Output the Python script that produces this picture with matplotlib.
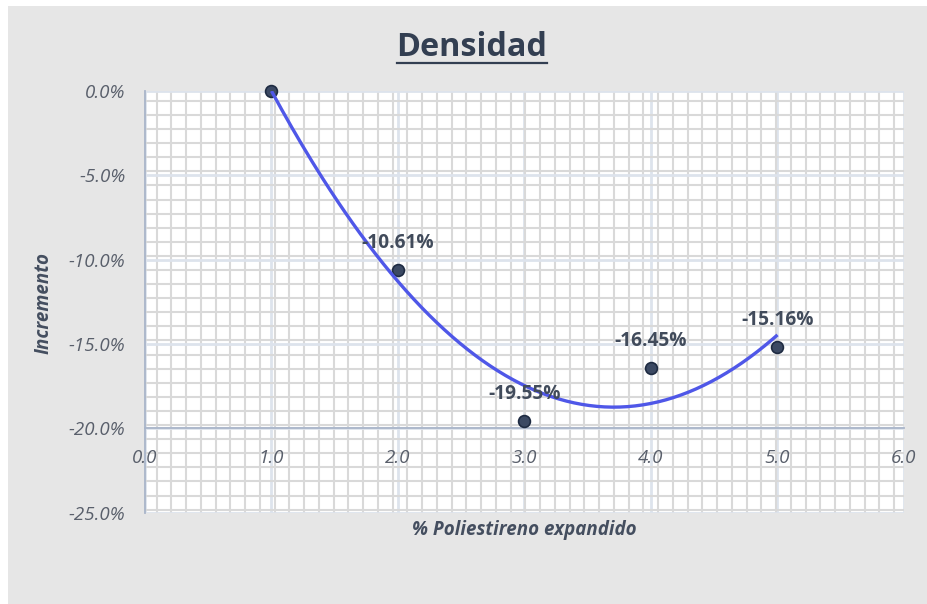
import numpy as np
import matplotlib
matplotlib.use("Agg")
import matplotlib.pyplot as plt
from matplotlib.ticker import MultipleLocator, FuncFormatter
from matplotlib.patches import Rectangle
from matplotlib.lines import Line2D

# Data: density change vs. expanded polystyrene content
eps_pct = [1.0, 2.0, 3.0, 4.0, 5.0]
incremento = [0.0, -10.61, -19.55, -16.45, -15.16]
point_labels = ["", "-10.61%", "-19.55%", "-16.45%", "-15.16%"]
x_ticks = [0.0, 1.0, 2.0, 3.0, 4.0, 5.0, 6.0]
y_ticks = [0.0, -5.0, -10.0, -15.0, -20.0, -25.0]

title = "Densidad"
xlabel = "% Poliestireno expandido"
ylabel = "Incremento"

plt.rcParams["font.family"] = ["Open Sans", "DejaVu Sans"]
plt.rcParams["axes.unicode_minus"] = False

W, H = 928, 604
fig = plt.figure(figsize=(W / 100, H / 100), dpi=100, facecolor="white")

# grey chart area background
fig.patches.append(Rectangle((8 / W, 0), 1 - 8 / W, 1 - 6 / H,
                             transform=fig.transFigure, facecolor="#e6e6e6",
                             edgecolor="none", zorder=-10))

rect = [145 / W, 1 - 512.5 / H, (904 - 145) / W, (512.5 - 91) / H]

# base axes: graph-paper grid, spines and data
ax = fig.add_axes(rect)
ax.set_zorder(1)
ax.set_facecolor("white")
ax.set_xlim(0, 6)
ax.set_ylim(-25, 0)
ax.set_xticks(x_ticks)
ax.set_yticks(y_ticks)
ax.xaxis.set_minor_locator(MultipleLocator(0.1166, offset=0.092))
ax.yaxis.set_minor_locator(MultipleLocator(0.836, offset=0.25))
ax.grid(which="minor", color="#d9d9d9", linewidth=1.5)
ax.grid(which="major", color="#dde3ec", linewidth=2.0)
ax.set_axisbelow(True)
ax.tick_params(which="both", length=0, labelbottom=False, labelleft=False)

for s in ("top", "right"):
    ax.spines[s].set_visible(False)
ax.spines["bottom"].set_position(("data", -20))
for s in ("bottom", "left"):
    ax.spines[s].set_color("#a9b5c9")
    ax.spines[s].set_linewidth(1.3)

# polynomial (order 2) trendline
coef = np.polyfit(eps_pct, incremento, 2)
xs = np.linspace(min(eps_pct), max(eps_pct), 200)
ax.plot(xs, np.polyval(coef, xs), color="#4f57e8", linewidth=2.4,
        zorder=4, solid_capstyle="butt")

ax.plot(eps_pct, incremento, linestyle="none", marker="o", markersize=8.5,
        markerfacecolor="#3b4963", markeredgecolor="#1e2b42",
        markeredgewidth=1.2, zorder=3, clip_on=False)

for x, y, t in zip(eps_pct, incremento, point_labels):
    if t:
        ax.annotate(t, (x, y), xytext=(0, 19.5), textcoords="offset points",
                    ha="center", va="center", fontsize=13.8,
                    fontweight="bold", color="#414b5b", zorder=5)

# overlay axes carrying the tick labels so they sit above the grid
lab = fig.add_axes(rect, frameon=False)
lab.set_zorder(2)
lab.patch.set_visible(False)
lab.set_xlim(ax.get_xlim())
lab.set_ylim(ax.get_ylim())
lab.set_xticks(x_ticks)
lab.set_yticks(y_ticks)
lab.spines["bottom"].set_position(("data", -20))
lab.xaxis.set_major_formatter(FuncFormatter(lambda v, p: f"{v + 0.0:.1f}"))
lab.yaxis.set_major_formatter(FuncFormatter(lambda v, p: f"{v + 0.0:.1f}%"))
lab.tick_params(which="both", length=0)
lab.tick_params(axis="x", pad=15, labelsize=13.5, labelcolor="#595f6b")
lab.tick_params(axis="y", pad=14, labelsize=13.5, labelcolor="#595f6b")
for lbl in lab.get_xticklabels() + lab.get_yticklabels():
    lbl.set_fontstyle("italic")

fig.text(472 / W, 1 - 56 / H, title, ha="center", va="baseline",
         fontsize=23.3, fontweight="bold", color="#333f52")
fig.text(44 / W, 1 - 303 / H, ylabel, ha="center", va="center", rotation=90,
         fontsize=13.5, fontweight="bold", fontstyle="italic", color="#444e5f")
fig.text(524.5 / W, 1 - 530 / H, xlabel, ha="center", va="center",
         fontsize=13.5, fontweight="bold", fontstyle="italic", color="#444e5f")

# underline the title
fig.canvas.draw()
ttl = [t for t in fig.texts if t.get_text() == title][0]
bb = ttl.get_window_extent()
uy = (H - 62.5) / H
fig.add_artist(Line2D([bb.x0 / W, bb.x1 / W], [uy, uy], transform=fig.transFigure,
                      color="#333f52", linewidth=1.6))

fig.savefig("out.png", dpi=100, facecolor=fig.get_facecolor())
